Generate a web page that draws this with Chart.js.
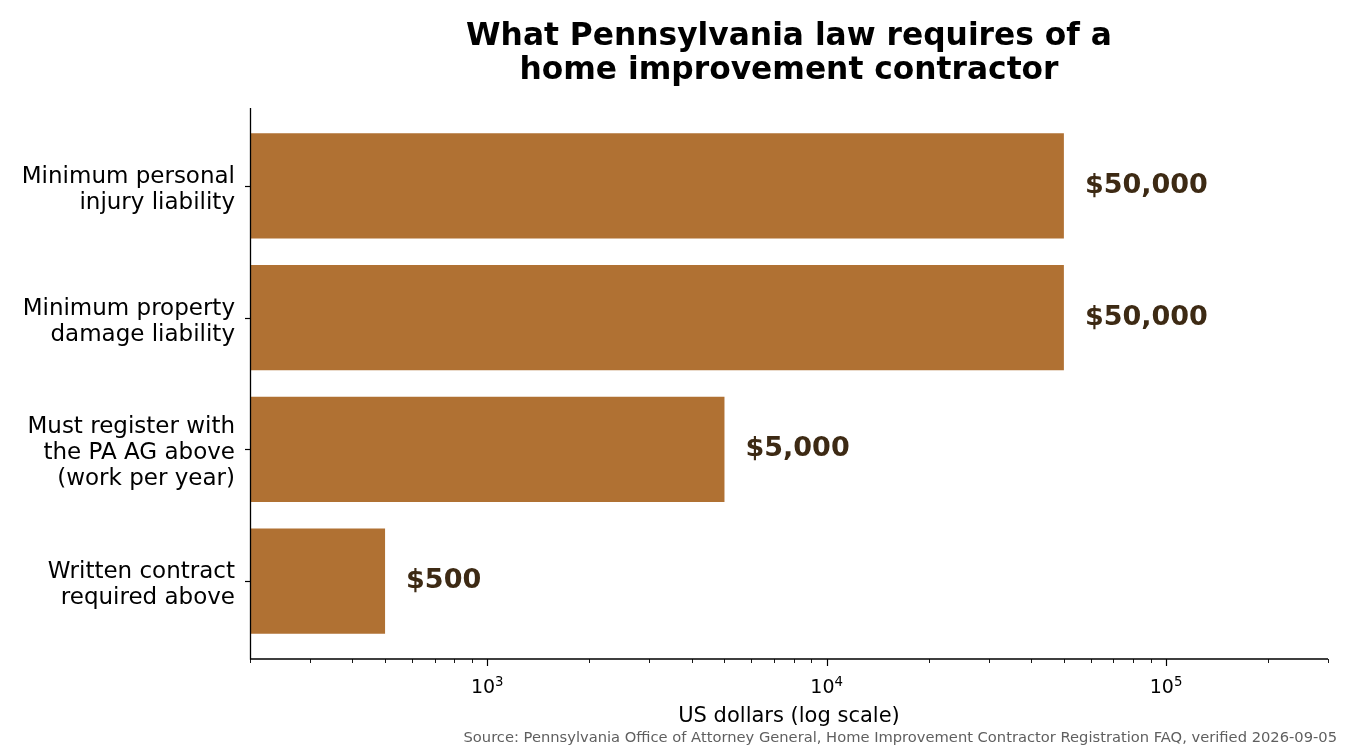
<!DOCTYPE html>
<html>
<head>
<meta charset="utf-8">
<script src="https://cdn.jsdelivr.net/npm/chart.js@4"></script>
<style>
  html, body { margin: 0; padding: 0; background: #fff; }
  #wrap { width: 1350px; height: 750px; position: relative; }
</style>
</head>
<body>
<div id="wrap"><canvas id="chart"></canvas></div>
<script>
// data
const categories = [
  ['Minimum personal', 'injury liability'],
  ['Minimum property', 'damage liability'],
  ['Must register with', 'the PA AG above', '(work per year)'],
  ['Written contract', 'required above']
];
const values = [50000, 50000, 5000, 500];
const valueLabels = ['$50,000', '$50,000', '$5,000', '$500'];
const xTickValues = [1000, 10000, 100000];
const xTickBase = '10';
const xTickExponents = ['3', '4', '5'];
const titleLines = ['What Pennsylvania law requires of a', 'home improvement contractor'];
const xTitle = 'US dollars (log scale)';
const sourceText = 'Source: Pennsylvania Office of Attorney General, Home Improvement Contractor Registration FAQ, verified 2026-09-05';

const FONT = "'DejaVu Sans', 'Liberation Sans', sans-serif";
const barColor = '#b07133';
const labelColor = '#3d2a14';
const SPINE_PAD = 12; // axes margin above/below the bars (spines sit outside the chart area)

// ticks, spines, labels, title and source are drawn here (matplotlib look)
const decor = {
  id: 'decor',
  afterDatasetsDraw(chart) {
    const { ctx } = chart;
    const meta = chart.getDatasetMeta(0);
    ctx.save();
    ctx.fillStyle = labelColor;
    ctx.font = 'bold 27px ' + FONT;
    ctx.textAlign = 'left';
    ctx.textBaseline = 'middle';
    meta.data.forEach((bar, i) => {
      ctx.fillText(valueLabels[i], bar.x + 21, bar.y);
    });
    ctx.restore();
  },
  afterDraw(chart) {
    const { ctx, chartArea: { left, right, top, bottom }, scales: { x, y } } = chart;
    const spineTop = top - SPINE_PAD;
    const spineBottom = bottom + SPINE_PAD;
    ctx.save();
    ctx.strokeStyle = '#000';
    ctx.lineWidth = 1.3;
    // spines
    ctx.beginPath();
    ctx.moveTo(left + 0.5, spineTop);
    ctx.lineTo(left + 0.5, spineBottom);
    ctx.lineTo(right, spineBottom);
    ctx.stroke();
    // y tick marks + category labels
    ctx.lineWidth = 1.2;
    ctx.fillStyle = '#000';
    ctx.font = '23px ' + FONT;
    ctx.textAlign = 'right';
    ctx.textBaseline = 'middle';
    categories.forEach((lines, i) => {
      const yc = y.getPixelForValue(i);
      const py = Math.round(yc) + 0.5;
      ctx.beginPath();
      ctx.moveTo(left - 5, py);
      ctx.lineTo(left, py);
      ctx.stroke();
      const start = yc + 4 - (lines.length - 1) * 26 / 2;
      lines.forEach((t, k) => ctx.fillText(t, left - 15, start + k * 26));
    });
    // x major + minor tick marks
    for (let e = 2; e <= 5; e++) {
      for (let m = 1; m <= 9; m++) {
        const v = m * Math.pow(10, e);
        if (v < x.min || v > x.max) continue;
        const px = Math.round(x.getPixelForValue(v)) + 0.5;
        ctx.beginPath();
        ctx.lineWidth = m === 1 ? 1.2 : 0.9;
        ctx.moveTo(px, spineBottom);
        ctx.lineTo(px, spineBottom + (m === 1 ? 7 : 4));
        ctx.stroke();
      }
    }
    // x tick labels 10^n
    ctx.textBaseline = 'alphabetic';
    ctx.textAlign = 'left';
    xTickValues.forEach((v, i) => {
      const px = x.getPixelForValue(v);
      ctx.font = '19px ' + FONT;
      const w1 = ctx.measureText(xTickBase).width;
      ctx.font = '13.3px ' + FONT;
      const w2 = ctx.measureText(xTickExponents[i]).width;
      const x0 = px - (w1 + w2) / 2;
      ctx.font = '19px ' + FONT;
      ctx.fillText(xTickBase, x0, spineBottom + 34);
      ctx.font = '13.3px ' + FONT;
      ctx.fillText(xTickExponents[i], x0 + w1, spineBottom + 27);
    });
    const cx = (left + right) / 2;
    ctx.textAlign = 'center';
    ctx.textBaseline = 'middle';
    ctx.font = 'bold 31.3px ' + FONT;
    ctx.fillText(titleLines[0], cx, 37);
    ctx.fillText(titleLines[1], cx, 71);
    ctx.font = '21px ' + FONT;
    ctx.fillText(xTitle, cx, 717);
    ctx.fillStyle = '#5f5f5f';
    ctx.font = '14.7px ' + FONT;
    ctx.textAlign = 'right';
    ctx.fillText(sourceText, 1337, 738);
    ctx.restore();
  }
};

new Chart(document.getElementById('chart'), {
  type: 'bar',
  data: {
    labels: categories,
    datasets: [{
      data: values,
      backgroundColor: barColor,
      borderWidth: 0,
      barPercentage: 0.8,
      categoryPercentage: 1.0
    }]
  },
  options: {
    indexAxis: 'y',
    responsive: true,
    maintainAspectRatio: false,
    animation: false,
    layout: { padding: { top: 120, right: 22, left: 0, bottom: 0 } },
    plugins: {
      legend: { display: false },
      tooltip: { enabled: false },
      title: { display: false }
    },
    scales: {
      x: {
        type: 'logarithmic',
        min: 200,
        max: 300000,
        grid: { display: false },
        border: { display: false },
        afterBuildTicks(scale) {
          scale.ticks = xTickValues.map(v => ({ value: v }));
        },
        afterFit(scale) { scale.height = 103; },
        ticks: { display: false }
      },
      y: {
        grid: { display: false },
        border: { display: false },
        afterFit(scale) { scale.width = 250; },
        ticks: { display: false }
      }
    }
  },
  plugins: [decor]
});
</script>
</body>
</html>
